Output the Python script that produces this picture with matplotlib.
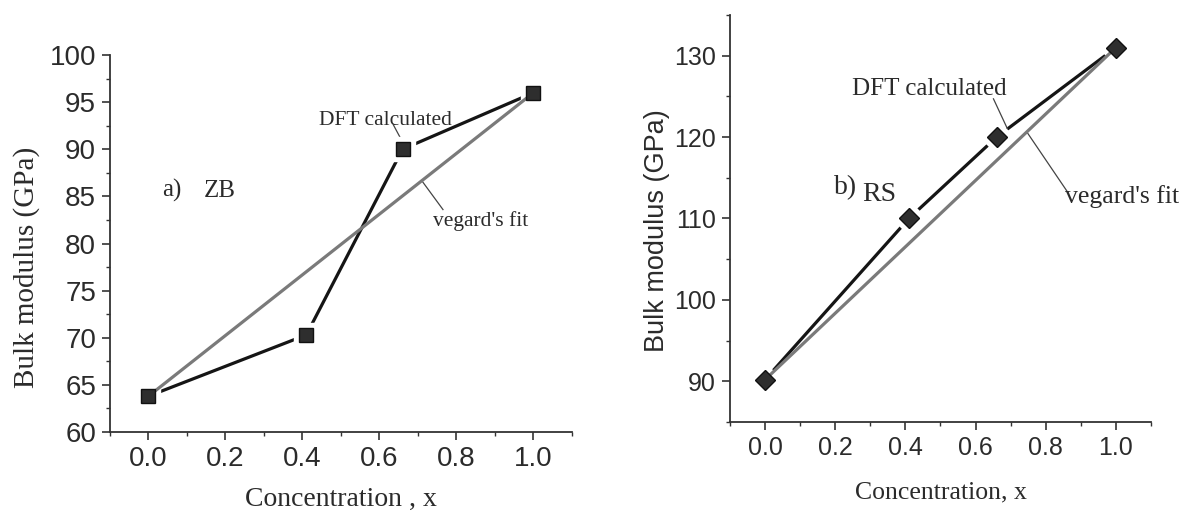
import matplotlib
matplotlib.use("Agg")
import matplotlib.pyplot as plt
import numpy as np
from matplotlib.ticker import MultipleLocator

# concentration x of the alloy
conc = [0.0, 0.41, 0.66, 1.0]

# zinc-blende phase, bulk modulus in GPa
zb_dft = [63.8, 70.3, 90.0, 96.0]
zb_vegard = [63.8, 96.0]

# rock-salt phase, bulk modulus in GPa
rs_dft = [90.2, 110.0, 120.0, 131.0]
rs_vegard = [90.2, 131.0]

ends = [conc[0], conc[-1]]

SERIF = "Liberation Serif"
SANS = "Liberation Sans"
INK = "#2b2b2b"


def style_axes(ax, ymin, ymax, ymajor, yminor, fsize):
    """ spines, limits and ticks the same way on both panels """
    ax.spines["top"].set_visible(False)
    ax.spines["right"].set_visible(False)
    for s in ("left", "bottom"):
        ax.spines[s].set_color("#333333")
        ax.spines[s].set_linewidth(1.3)
    ax.set_xlim(-0.1, 1.1)
    ax.set_ylim(ymin, ymax)
    ax.xaxis.set_major_locator(MultipleLocator(0.2))
    ax.xaxis.set_minor_locator(MultipleLocator(0.1))
    ax.yaxis.set_major_locator(MultipleLocator(ymajor))
    ax.yaxis.set_minor_locator(MultipleLocator(yminor))
    ax.tick_params(which="major", direction="out", length=6, width=1.2,
                   color="#333333", labelsize=fsize, labelcolor=INK, pad=4)
    ax.tick_params(which="minor", direction="out", length=3, width=1.0,
                   color="#333333")
    ax.xaxis.set_major_formatter(plt.FormatStrFormatter("%.1f"))
    for lab in ax.get_xticklabels() + ax.get_yticklabels():
        lab.set_fontfamily(SANS)


def draw_series(ax, dft, vegard, marker, msize):
    """ DFT points joined by a black line with small gaps at the markers,
        and the straight vegard line between the end members """
    ax.plot(conc, dft, color="#151515", lw=2.3, zorder=2)
    # white halo cuts the line short of each marker
    ax.plot(conc, dft, ls="none", marker=marker, ms=msize + 7,
            mfc="white", mec="white", zorder=3)
    ax.plot(ends, vegard, color="#7a7a7a", lw=2.3, zorder=4)
    ax.plot(conc, dft, ls="none", marker=marker, ms=msize,
            mfc="#2e2e2e", mec="#111111", mew=1.0, zorder=5)


fig = plt.figure(figsize=(11.81, 5.12), dpi=100)

#---------------------------- a) zinc blende ----------------------------
ax1 = fig.add_axes([0.0931, 0.15625, 0.3912, 0.7363])
style_axes(ax1, 60, 100, 5, 2.5, 20)
draw_series(ax1, zb_dft, zb_vegard, "s", 10)

ax1.set_ylabel("Bulk modulus (GPa)", fontsize=21, family=SERIF, color=INK)
ax1.yaxis.set_label_coords(-0.152, 0.436)
ax1.set_xlabel("Concentration , x", fontsize=20, family=SERIF, color=INK)
ax1.xaxis.set_label_coords(0.5, -0.145)

ax1.text(0.036, 85.6, "a)", fontsize=18, family=SERIF, color=INK, va="center")
ax1.text(0.143, 85.6, "ZB", fontsize=18, family=SERIF, color=INK, va="center")

ax1.text(0.442, 93.1, "DFT calculated", fontsize=15.5, family=SERIF,
         color=INK, va="center")
ax1.plot([0.636, 0.657], [92.6, 91.0], color="#444444", lw=0.9)

ax1.text(0.74, 82.4, "vegard's fit", fontsize=15.5, family=SERIF,
         color=INK, va="center")
x0 = 0.71
ax1.plot([x0, 0.765], [np.interp(x0, ends, zb_vegard), 83.6],
         color="#444444", lw=0.9)

#---------------------------- b) rock salt ----------------------------
ax2 = fig.add_axes([0.6181, 0.1758, 0.3565, 0.7949])
style_axes(ax2, 85, 135, 10, 5, 18)
draw_series(ax2, rs_dft, rs_vegard, "D", 10)

ax2.set_ylabel("Bulk modulus (GPa)", fontsize=19.5, family=SANS, color=INK)
ax2.yaxis.set_label_coords(-0.143, 0.47)
ax2.set_xlabel("Concentration, x", fontsize=18.5, family=SERIF, color=INK)
ax2.xaxis.set_label_coords(0.5, -0.147)

ax2.text(0.197, 113.8, "b)", fontsize=20, family=SERIF, color=INK, va="center")
ax2.text(0.277, 113.0, "RS", fontsize=20, family=SERIF, color=INK, va="center")

ax2.text(0.249, 125.9, "DFT calculated", fontsize=18, family=SERIF,
         color=INK, va="center")
x1 = 0.691
ax2.plot([0.651, x1], [124.7, np.interp(x1, conc, rs_dft)],
         color="#444444", lw=0.9)

ax2.text(0.854, 112.7, "vegard's fit", fontsize=18.5, family=SERIF,
         color=INK, va="center", clip_on=False)
x2 = 0.746
ax2.plot([x2, 0.863], [np.interp(x2, ends, rs_vegard), 113.2],
         color="#444444", lw=0.9)

fig.savefig("out.png", dpi=100)
